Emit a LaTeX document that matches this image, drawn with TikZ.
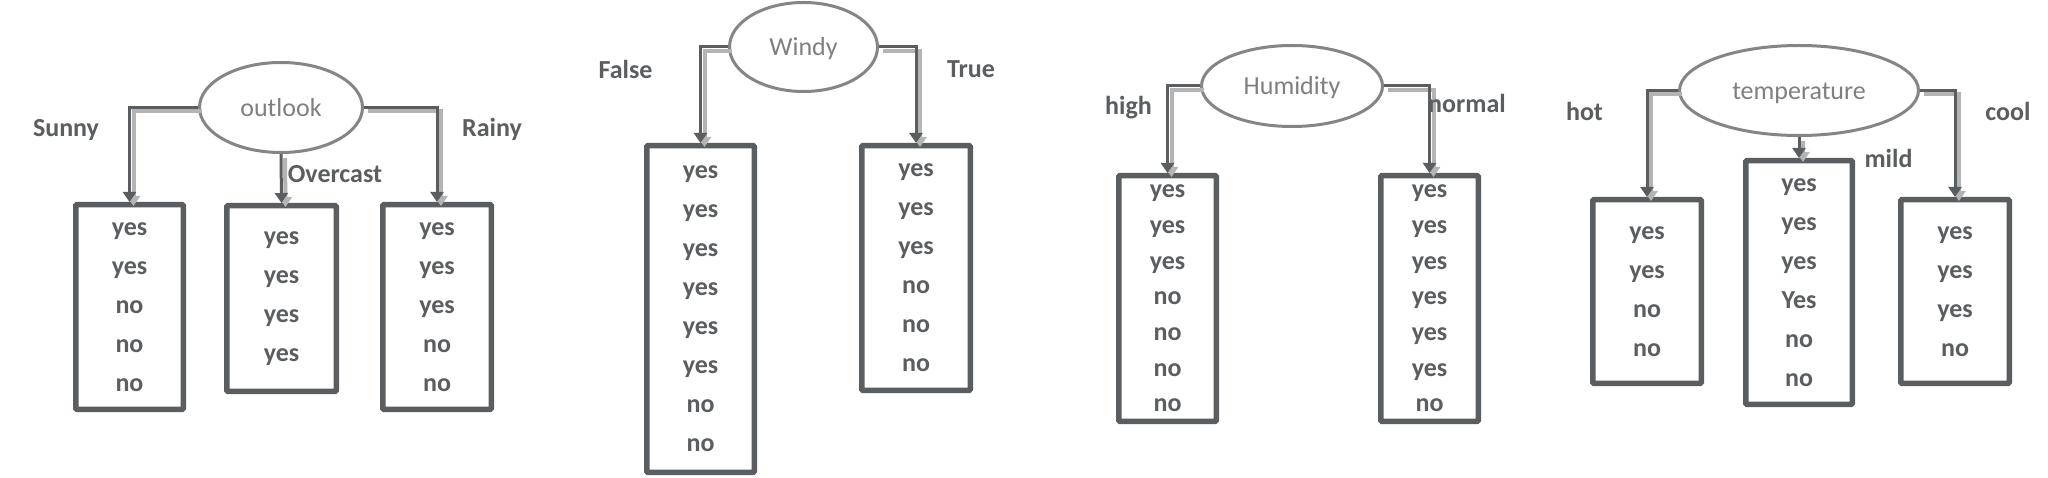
\documentclass[tikz,border=0pt]{standalone}
\usepackage{fontspec}
\setmainfont{Carlito}
\usetikzlibrary{shapes.geometric,arrows.meta}
\definecolor{dk}{HTML}{5B5E60}
\definecolor{shd}{HTML}{B4B4B4}
\definecolor{ell}{HTML}{858585}
\definecolor{etxt}{HTML}{7F7F7F}
\begin{document}
\begin{tikzpicture}[x=1pt,y=-1pt,
 leaf/.style={draw=dk, line width=5.5pt, rectangle, rounded corners=1pt, inner sep=0pt, align=center, text=dk, font=\fontsize{26}{39}\selectfont\bfseries},
 attr/.style={draw=ell, line width=3pt, ellipse, inner sep=0pt, fill=white, text=etxt, text height=18pt, text depth=0pt, font=\fontsize{26}{30}\selectfont},
 lbl/.style={anchor=base, text=dk, font=\fontsize{26}{30}\selectfont\bfseries, inner sep=0pt},
 conn/.style={draw=dk, line width=3pt, -{Triangle[width=13pt,length=10pt]}},
 shadow/.style={draw=shd, line width=4pt, -{Triangle[width=13pt,length=10pt]}, transform canvas={shift={(4pt,-4pt)}}},
]
\useasboundingbox[fill=white] (0,0) rectangle (2048,478);

% ---------- outlook ----------
\node[attr, minimum width=163pt, minimum height=90pt] (o) at (281,107.5) {outlook};
\node[leaf, minimum width=107.5pt, minimum height=204.5pt] (o1) at (129.5,307) {yes\\yes\\no\\no\\no};
\node[leaf, minimum width=109.5pt, minimum height=185.5pt] (o2) at (281.5,298.5) {yes\\yes\\yes\\yes};
\node[leaf, minimum width=108.5pt, minimum height=204.5pt] (o3) at (437,307) {yes\\yes\\yes\\no\\no};
\draw[shadow] (o.west) -| (o1.north);
\draw[conn] (o.west) -| (o1.north);
\draw[shadow] (o.south) -- (o2.north);
\draw[conn] (o.south) -- (o2.north);
\draw[shadow] (o.east) -| (o3.north);
\draw[conn] (o.east) -| (o3.north);
\node[lbl] (lsunny) at (66,137) {Sunny};
\node[lbl] (lover) at (335,183) {Overcast};
\node[lbl] (lrainy) at (492,137) {Rainy};

% ---------- Windy ----------
\node[attr, minimum width=148pt, minimum height=89pt] (w) at (803.5,47) {Windy};
\node[leaf, minimum width=107.5pt, minimum height=326.5pt] (w1) at (700.5,309) {yes\\yes\\yes\\yes\\yes\\yes\\no\\no};
\node[leaf, minimum width=108.5pt, minimum height=244.5pt] (w2) at (916,268) {yes\\yes\\yes\\no\\no\\no};
\draw[shadow] (w.west) -| (w1.north);
\draw[conn] (w.west) -| (w1.north);
\draw[shadow] (w.east) -| (w2.north);
\draw[conn] (w.east) -| (w2.north);
\node[lbl] (lfalse) at (625.5,79) {False};
\node[lbl] (ltrue) at (971,78) {True};

% ---------- Humidity ----------
\node[attr, minimum width=181pt, minimum height=81pt] (h) at (1292,86) {Humidity};
\node[leaf, minimum width=97.5pt, minimum height=245.5pt, font=\fontsize{26}{35.7}\selectfont\bfseries] (h1) at (1167.5,298.5) {yes\\yes\\yes\\no\\no\\no\\no};
\node[leaf, minimum width=97.5pt, minimum height=245.5pt, font=\fontsize{26}{35.7}\selectfont\bfseries] (h2) at (1429.5,298.5) {yes\\yes\\yes\\yes\\yes\\yes\\no};
\draw[shadow] (h.west) -| (h1.north);
\draw[conn] (h.west) -| (h1.north);
\draw[shadow] (h.east) -| (h2.north);
\draw[conn] (h.east) -| (h2.north);
\node[lbl] (lhigh) at (1128.5,115) {high};
\node[lbl] (lnormal) at (1467,113) {normal};

% ---------- temperature ----------
\node[attr, minimum width=239pt, minimum height=90pt] (t) at (1799,90.5) {temperature};
\node[leaf, minimum width=108.5pt, minimum height=183.5pt] (t1) at (1647,291.5) {yes\\yes\\no\\no};
\node[leaf, minimum width=106.5pt, minimum height=243.5pt] (t2) at (1799,282.5) {yes\\yes\\yes\\Yes\\no\\no};
\node[leaf, minimum width=108.5pt, minimum height=183.5pt] (t3) at (1955,291.5) {yes\\yes\\yes\\no};
\draw[shadow] (t.west) -| (t1.north);
\draw[conn] (t.west) -| (t1.north);
\draw[shadow] (t.south) -- (t2.north);
\draw[conn] (t.south) -- (t2.north);
\draw[shadow] (t.east) -| (t3.north);
\draw[conn] (t.east) -| (t3.north);
\node[lbl] (lhot) at (1584.5,121) {hot};
\node[lbl] (lmild) at (1888.5,168) {mild};
\node[lbl] (lcool) at (2008,121) {cool};
\end{tikzpicture}
\end{document}
